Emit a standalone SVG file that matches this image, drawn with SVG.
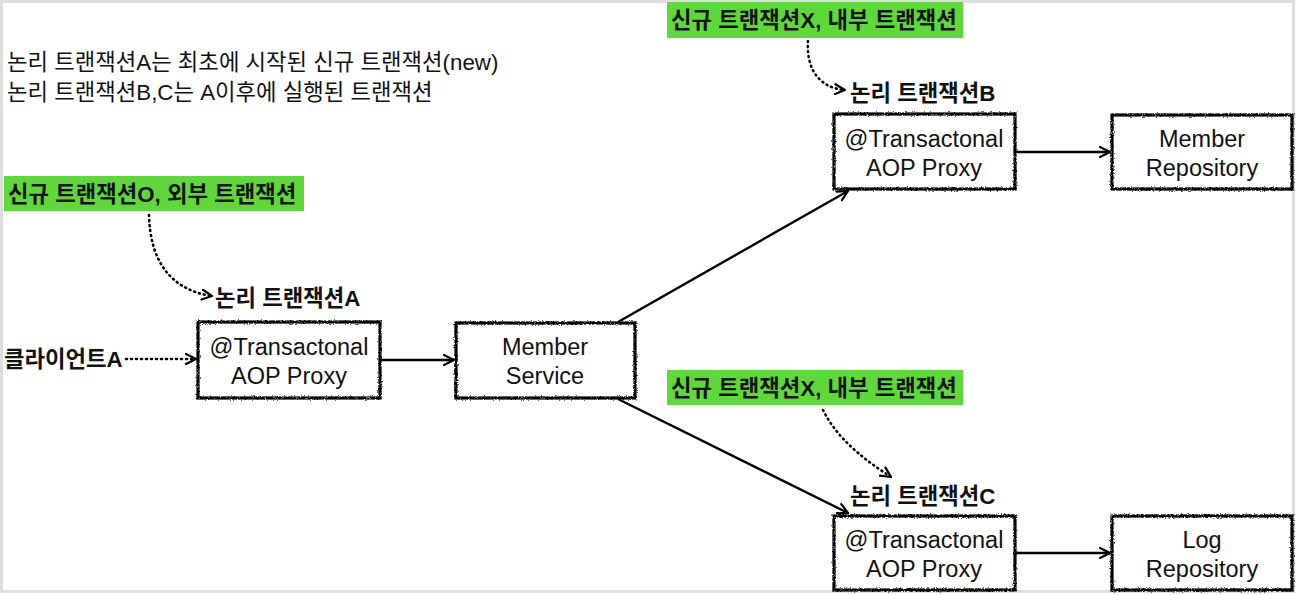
<svg xmlns="http://www.w3.org/2000/svg" width="1298" height="595" viewBox="0 0 1298 595">
<defs>
<filter id="rough" x="-5%" y="-5%" width="110%" height="110%">
<feTurbulence type="fractalNoise" baseFrequency="0.7" numOctaves="2" seed="3" result="n"/>
<feDisplacementMap in="SourceGraphic" in2="n" scale="3" xChannelSelector="R" yChannelSelector="G"/>
</filter>
<marker id="arr" viewBox="0 0 12 12" refX="11" refY="6" markerWidth="12" markerHeight="12" markerUnits="userSpaceOnUse" orient="auto">
<path d="M1,1 L11,6 L1,11" fill="none" stroke="#000" stroke-width="2.2" stroke-linecap="round" stroke-linejoin="round"/>
</marker>
</defs>
<style>
.box{fill:#fff;stroke:#000;stroke-width:3.2;filter:url(#rough)}
.t{font-family:"Liberation Sans","Noto Sans CJK KR",sans-serif;fill:#111}
.nt{font-size:23.5px;text-anchor:middle}
.hd{font-size:22.3px}
.lb{font-size:22.3px;font-weight:bold}
.gn{font-size:22.3px;font-weight:600}
.gr{fill:#5fd93a}
.con{fill:none;stroke:#000;stroke-width:2.4;marker-end:url(#arr)}
.dot{fill:none;stroke:#000;stroke-width:2.6;stroke-dasharray:1 4;stroke-linecap:round;marker-end:url(#arr)}
</style>
<rect x="1.5" y="1.5" width="1292" height="590" fill="#fff" stroke="#ddd" stroke-width="3"/>

<g id="header">
<text class="t hd" x="7" y="70">논리 트랜잭션A는 최초에 시작된 신규 트랜잭션(new)</text>
<text class="t hd" x="7" y="100">논리 트랜잭션B,C는 A이후에 실행된 트랜잭션</text>
</g>

<g id="noteO">
<rect class="gr" x="4" y="176" width="300" height="35"/>
<text class="t gn" x="8" y="202">신규 트랜잭션O, 외부 트랜잭션</text>
</g>
<g id="noteXB">
<rect class="gr" x="667" y="2" width="296" height="36"/>
<text class="t gn" x="671" y="28">신규 트랜잭션X, 내부 트랜잭션</text>
</g>
<g id="noteXC">
<rect class="gr" x="667" y="370" width="296" height="35"/>
<text class="t gn" x="671" y="396">신규 트랜잭션X, 내부 트랜잭션</text>
</g>

<g id="labelA"><text class="t lb" x="215" y="306">논리 트랜잭션A</text></g>
<g id="labelB"><text class="t lb" x="850" y="101">논리 트랜잭션B</text></g>
<g id="labelC"><text class="t lb" x="850" y="504">논리 트랜잭션C</text></g>
<g id="client"><text class="t lb" x="4" y="367">클라이언트A</text></g>

<g id="proxyA">
<rect class="box" x="198" y="322" width="182" height="76"/>
<text class="t nt" x="289" y="355">@Transactonal</text>
<text class="t nt" x="289" y="384">AOP Proxy</text>
</g>
<g id="memberService">
<rect class="box" x="456" y="323" width="179" height="75"/>
<text class="t nt" x="545" y="355">Member</text>
<text class="t nt" x="545" y="384">Service</text>
</g>
<g id="proxyB">
<rect class="box" x="834" y="114" width="181" height="75"/>
<text class="t nt" x="924" y="147">@Transactonal</text>
<text class="t nt" x="924" y="176">AOP Proxy</text>
</g>
<g id="memberRepo">
<rect class="box" x="1112" y="115" width="180" height="74"/>
<text class="t nt" x="1202" y="147">Member</text>
<text class="t nt" x="1202" y="176">Repository</text>
</g>
<g id="proxyC">
<rect class="box" x="834" y="516" width="181" height="74"/>
<text class="t nt" x="924" y="548">@Transactonal</text>
<text class="t nt" x="924" y="577">AOP Proxy</text>
</g>
<g id="logRepo">
<rect class="box" x="1112" y="516" width="180" height="74"/>
<text class="t nt" x="1202" y="548">Log</text>
<text class="t nt" x="1202" y="577">Repository</text>
</g>

<g id="connectors">
<line class="con" x1="380" y1="360" x2="454" y2="360"/>
<line class="con" x1="618" y1="322" x2="848" y2="191"/>
<line class="con" x1="618" y1="399" x2="848" y2="513"/>
<line class="con" x1="1015" y1="152" x2="1110" y2="152"/>
<line class="con" x1="1015" y1="553" x2="1110" y2="553"/>
<line class="dot" x1="126" y1="359" x2="196" y2="359"/>
<path class="dot" d="M149,215 C150,260 170,290 212,296"/>
<path class="dot" d="M808,41 C806,70 820,88 845,90"/>
<path class="dot" d="M823,410 C838,440 865,460 891,477"/>
</g>
</svg>
